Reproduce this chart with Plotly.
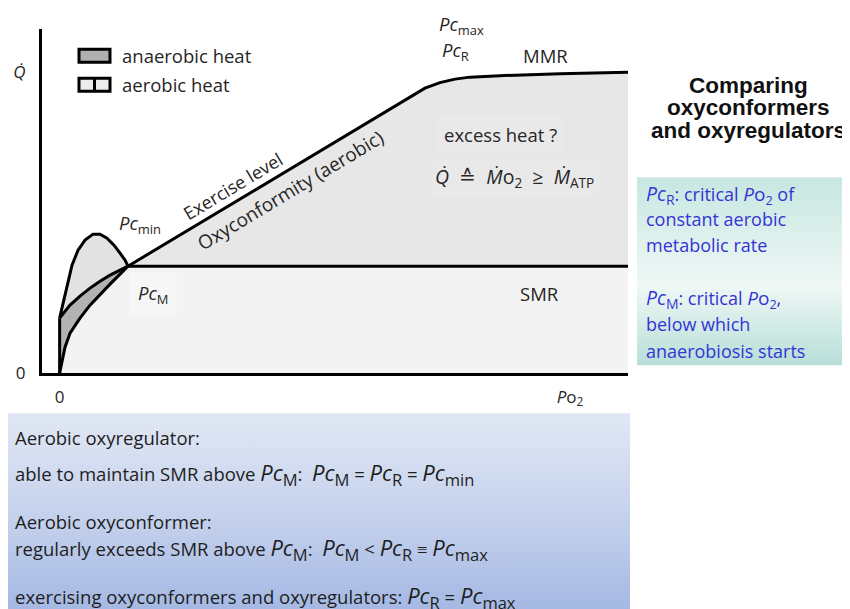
import plotly.graph_objects as go

# ---------------- data (arbitrary units: x = PO2, y = heat / metabolic rate) ----------------
# lower aerobic curve (SMR below Pc_M)
lower_x = [0, 0.42, 0.95, 1.83, 3.59, 5.35, 7.11, 8.87, 10.63, 12.03]
lower_y = [0, 3.78, 7.56, 11.63, 15.99, 19.77, 22.97, 25.87, 28.78, 31.10]
# upper boundary of anaerobic heat
upper_x = [0, 1.83, 3.59, 5.35, 7.11, 8.87, 10.63, 12.03]
upper_y = [15.99, 19.77, 22.38, 24.71, 26.74, 28.49, 29.94, 31.10]
# Pc_min hump
hump_x = [0, 0.60, 1.30, 2.18, 3.24, 4.47, 5.88, 7.11, 8.34, 9.57, 10.63, 11.51, 12.03]
hump_y = [15.99, 20.35, 25.58, 31.40, 35.76, 38.66, 40.41, 40.41, 39.24, 37.21, 34.88, 32.85, 31.10]
# exercise level / oxyconformity line up to MMR
mmr_x = [12.03, 64.28, 66.92, 69.56, 72.2, 77.47, 88.03, 100.0]
mmr_y = [31.10, 82.85, 84.45, 85.47, 86.05, 86.48, 87.06, 87.50]
# SMR plateau
smr_x = [12.03, 100.0]
smr_y = [31.10, 31.10]
# vertical segment at PO2 = 0
vert_x = [0, 0]
vert_y = [0, 15.99]

x_tickvals = [0, 89.8]
x_ticktext = ["0", "<i>P</i>o<sub>2</sub>"]
y_tickvals = [0, 87.5]
y_ticktext = ["0", "<i>Q\u0307</i>"]

# ---------------- page geometry ----------------
OFF = 8                 # default body margin of the page
S = 0.982               # vertical scale of the captured page
W, H = 842, 612
BLACK = "#000000"
TXT = "#262626"
BLUE = "#3434d6"
FONT = "Open Sans"

def fy(ry):             # picture y -> figure y (px from top)
    return ry / S - OFF

fig = go.Figure()

def area(xs, ys, color):
    fig.add_trace(go.Scatter(x=xs, y=ys, mode="lines", fill="toself", fillcolor=color,
                             line=dict(width=0), hoverinfo="skip", showlegend=False))

def line(xs, ys, w=3):
    fig.add_trace(go.Scatter(x=xs, y=ys, mode="lines", line=dict(color=BLACK, width=w),
                             hoverinfo="skip", showlegend=False))

# fills
area(lower_x + smr_x[1:] + [smr_x[-1], 0], lower_y + smr_y[1:] + [0, 0], "#f3f3f3")
area(mmr_x + [mmr_x[-1], smr_x[0]], mmr_y + [smr_y[-1], smr_y[0]], "#e7e7e7")
area(hump_x + upper_x[::-1], hump_y + upper_y[::-1], "#e2e2e2")
area(upper_x + lower_x[::-1], upper_y + lower_y[::-1], "#b2b2b2")

# outlines
line(lower_x, lower_y)
line(upper_x, upper_y)
line(hump_x, hump_y)
line(mmr_x, mmr_y)
line(smr_x, smr_y)
line(vert_x, vert_y)

# ---------------- decoration panels on a full-page overlay axis (picture pixel units) ----------------
def panel(x0, y0, x1, y1, scale):
    fig.add_trace(go.Scatter(x=[x0, x1, x1, x0, x0], y=[y0, y0, y1, y1, y0], xaxis="x2", yaxis="y2",
                             mode="lines", fill="toself", line=dict(width=0),
                             fillgradient=dict(type="vertical", colorscale=scale, start=y0, stop=y1),
                             hoverinfo="skip", showlegend=False))

panel(7, 413, 630, 615, [[0, "#dfe6f4"], [0.5, "#c3d0ec"], [1, "#9fb4e2"]])
panel(637, 177, 855, 365, [[0, "#c8e7e1"], [0.55, "#eff8f6"], [1, "#b3dcd5"]])

shapes = []
# legend swatches
shapes.append(dict(type="rect", xref="x2", yref="y2", x0=79, y0=49, x1=110, y1=62,
                   fillcolor="#b0b0b0", line=dict(color=BLACK, width=3)))
shapes.append(dict(type="rect", xref="x2", yref="y2", x0=79, y0=78, x1=110, y1=91,
                   fillcolor="#ececec", line=dict(color=BLACK, width=3)))
shapes.append(dict(type="line", xref="x2", yref="y2", x0=94.5, y0=78, x1=94.5, y1=91,
                   line=dict(color=BLACK, width=3)))

ann = []
def t(x, y, s, size=18.5, color=TXT, xanchor="center", ref="data", font=FONT, angle=0,
      bg=None, pad=1):
    xr, yr = ("x", "y") if ref == "data" else ("x2", "y2")
    a = dict(x=x, y=y, xref=xr, yref=yr, text=s, showarrow=False, xanchor=xanchor,
             yanchor="middle", textangle=angle, borderpad=pad,
             font=dict(family=font, size=size, color=color))
    if bg:
        a["bgcolor"] = bg
    ann.append(a)

def pc(sub, size, subsize):
    return (f'<span style="font-size:{size}px"><i>Pc</i></span>'
            f'<span style="font-size:{subsize / 0.7:.1f}px"><sub>{sub}</sub></span>')

# legend text
t(120, 55, "anaerobic heat", xanchor="left", ref="page")
t(120, 84, "aerobic heat", xanchor="left", ref="page")

# chart labels
t(14.2, 43.3, "<i>Pc</i><sub>min</sub>")
t(16.6, 23.0, "<i>Pc</i><sub>M</sub>", bg="#f6f6f6", pad=8)
t(30.5, 54.4, "Exercise level", size=18, angle=-31)
t(40.7, 53.2, "Oxyconformity (aerobic)", size=19, angle=-31)
t(461, 25, "<i>Pc</i><sub>max</sub>", ref="page")
t(69.7, 93.6, "<i>Pc</i><sub>R</sub>")
t(85.4, 92.4, "MMR")
t(77.5, 69.5, "excess heat ?", bg="#e9e9e9", pad=6)
t(80.1, 57.0, "<i>Q\u0307</i>  \u2259  <i>\u1E40</i>o<sub>2</sub>  \u2265  <i>\u1E40</i><sub>ATP</sub>",
  size=19.5, bg="#e9e9e9", pad=4)
t(84.5, 23.3, "SMR")

# right title
for yy, s in [(85, "Comparing"), (107, "oxyconformers"), (130, "and oxyregulators")]:
    t(748, yy, "<b>" + s + "</b>", size=22.5, color="#111111", ref="page", font="Liberation Sans",
      pad=0)

# teal box text
po2 = '<span style="font-size:19px"><i>P</i>o</span><sub>2</sub>'
for yy, s in [(194, pc("R", 19.5, 14) + ": critical " + po2 + " of"),
              (219, "constant aerobic"),
              (245, "metabolic rate"),
              (298, pc("M", 19.5, 14) + ": critical " + po2 + ","),
              (324, "below which"),
              (351, "anaerobiosis starts")]:
    t(645, yy, s, size=18, color=BLUE, xanchor="left", ref="page", pad=0)

# bottom box text
F, SB = 22, 16.5
for yy, s in [(437, "Aerobic oxyregulator:"),
              (474, "able to maintain SMR above " + pc("M", F, SB) + ":  " + pc("M", F, SB) + " = "
               + pc("R", F, SB) + " = " + pc("min", F, SB)),
              (521, "Aerobic oxyconformer:"),
              (549, "regularly exceeds SMR above " + pc("M", F, SB) + ":  " + pc("M", F, SB) + " &lt; "
               + pc("R", F, SB) + " \u2261 " + pc("max", F, SB)),
              (597, "exercising oxyconformers and oxyregulators: " + pc("R", F, SB) + " = "
               + pc("max", F, SB))]:
    t(14, yy, s, size=18.5, color="#1e1e1e", xanchor="left", ref="page", pad=0)

fig.update_layout(
    width=W, height=H,
    margin=dict(l=0, r=0, t=0, b=0),
    paper_bgcolor="white", plot_bgcolor="rgba(0,0,0,0)",
    showlegend=False,
    shapes=shapes, annotations=ann,
    xaxis=dict(domain=[(42 - OFF) / W, (628 - OFF) / W], range=[-3.1, 100], showgrid=False,
               zeroline=False, showline=True, linecolor=BLACK, linewidth=3, ticks="",
               tickvals=x_tickvals, ticktext=x_ticktext, ticklabelstandoff=6,
               tickfont=dict(family=FONT, size=17, color=TXT), fixedrange=True),
    yaxis=dict(domain=[1 - fy(373) / H, 1 - fy(29) / H], range=[0, 100], showgrid=False,
               zeroline=False, showline=True, linecolor=BLACK, linewidth=3, ticks="",
               tickvals=y_tickvals, ticktext=y_ticktext, ticklabelstandoff=10,
               tickfont=dict(family=FONT, size=17, color=TXT), fixedrange=True),
    xaxis2=dict(domain=[0, 1], range=[OFF, OFF + W], visible=False, anchor="y2", fixedrange=True),
    yaxis2=dict(domain=[0, 1], range=[(H + OFF) * S, OFF * S], visible=False, anchor="x2",
                fixedrange=True),
)

fig.write_html("out.html")
